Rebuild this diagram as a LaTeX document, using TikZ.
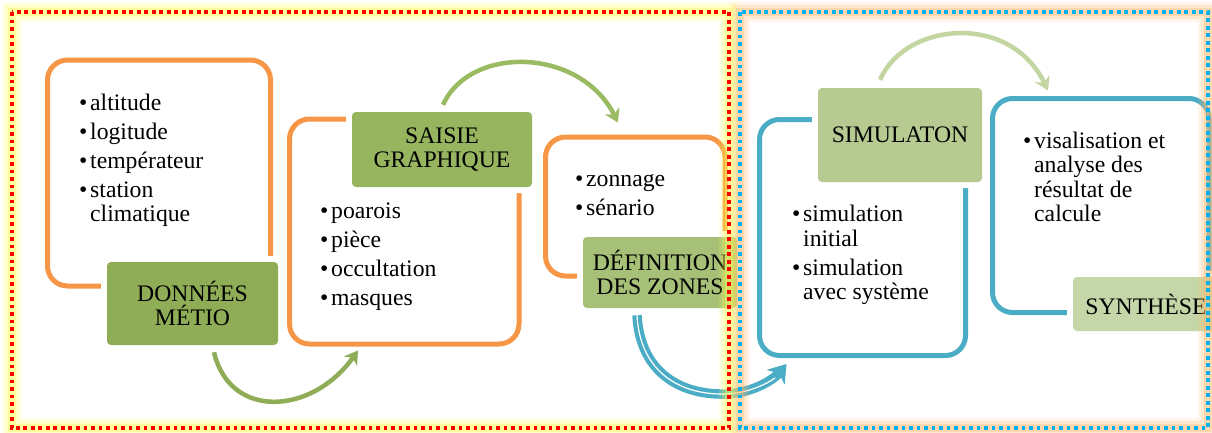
\documentclass[tikz,border=0pt]{standalone}
\usepackage{fontspec}
\setmainfont{Liberation Serif}
\usetikzlibrary{arrows.meta,calc}
\definecolor{orangeC}{HTML}{F79646}
\definecolor{blueC}{HTML}{4BACC6}
\definecolor{gA}{HTML}{8EAD56}
\definecolor{gB}{HTML}{97B55F}
\definecolor{gC}{HTML}{A6C078}
\definecolor{gD}{HTML}{B6CA92}
\definecolor{gE}{HTML}{C5D7A8}
\definecolor{arrA}{HTML}{8EAD56}
\definecolor{arrB}{HTML}{9BBB63}
\definecolor{arrD}{HTML}{C3D6A2}
\definecolor{frameRed}{HTML}{FF0000}
\definecolor{frameBlue}{HTML}{00B0F0}
\definecolor{glowY}{HTML}{FFFF55}
\definecolor{glowO}{HTML}{FBB870}
\newcommand\bul{\makebox[11pt][l]{\textbullet}}
\newcommand\ind{\hspace*{11pt}}
\newcommand\bigtxt{\fontsize{23.7}{24.5}\selectfont}
\begin{document}
\begin{tikzpicture}[x=1pt,y=-1pt,
  obox/.style={draw=orangeC, line width=5pt, rounded corners=20pt, inner sep=0pt},
  bbox/.style={obox, draw=blueC},
  gbox/.style={rounded corners=4pt, inner sep=0pt, align=center, font=\bigtxt,
               preaction={draw=white, line width=12pt}},
  btxt/.style={anchor=base west, inner sep=0pt, font=\bigtxt},
  garrow/.style={line width=4.5pt, -{Stealth[length=13pt,width=16pt,inset=4pt]}},
  redframe/.style={draw=frameRed, line width=3.8pt, dash pattern=on 3.8pt off 3.7pt},
  blueframe/.style={draw=frameBlue, line width=3.8pt, dash pattern=on 3.8pt off 3.7pt}
]
\useasboundingbox (0,0) rectangle (1212,432);
\clip (0,0) rectangle (1212,432);

% outline boxes
\node[obox, minimum width=223pt, minimum height=226pt] (o1) at (159,173) {};
\node[obox, minimum width=229.5pt, minimum height=225pt] (o2) at (404.25,231.5) {};
\node[obox, minimum width=179.5pt, minimum height=139pt] (o3) at (635.25,206.5) {};
\node[bbox, minimum width=206pt, minimum height=236pt] (o4) at (862.5,237.5) {};
\node[bbox, minimum width=216.5pt, minimum height=214pt] (o5) at (1100.75,205.5) {};

% green title boxes
\node[gbox, fill=gA, minimum width=171pt, minimum height=83pt] (g1) at (192.5,303.5) {DONNÉES\\MÉTIO};
\node[gbox, fill=gB, minimum width=180pt, minimum height=75pt] (g2) at (442,149.5) {SAISIE\\GRAPHIQUE};
\node[gbox, fill=gC, minimum width=154pt, minimum height=71pt] (g3) at (660,272.5) {DÉFINITION\\DES ZONES};
\node[gbox, fill=gD, minimum width=164pt, minimum height=94pt] (g4) at (900,135) {SIMULATON};
\node[gbox, fill=gE, minimum width=146pt, minimum height=54pt] (g5) at (1146,304) {SYNTHÈSE};

% bullet texts
\node[btxt] (t1) at (79,110) {\begin{tabular}[t]{@{}l@{}}\bul altitude\\[4.5pt]\bul logitude\\[4.5pt]\bul températeur\\[4.5pt]\bul station\\\ind climatique\end{tabular}};
\node[btxt] (t2) at (320,218) {\begin{tabular}[t]{@{}l@{}}\bul poarois\\[4.5pt]\bul pièce\\[4.5pt]\bul occultation\\[4.5pt]\bul masques\end{tabular}};
\node[btxt] (t3) at (575,186.7) {\begin{tabular}[t]{@{}l@{}}\bul zonnage\\[3.8pt]\bul sénario\end{tabular}};
\node[btxt] (t4) at (792,221.7) {\begin{tabular}[t]{@{}l@{}}\bul simulation\\\ind initial\\[4.5pt]\bul simulation\\\ind avec système\end{tabular}};
\node[btxt] (t5) at (1023,148.3) {\begin{tabular}[t]{@{}l@{}}\bul visalisation et\\\ind analyse des\\\ind résultat de\\\ind calcule\end{tabular}};

% connector end points
\coordinate (a1s) at ([xshift=21.5pt,yshift=-7pt]g1.south);
\coordinate (a1e) at ([xshift=-46.25pt,yshift=-4pt]o2.south);
\coordinate (a2s) at ([xshift=1pt,yshift=7pt]g2.north);
\coordinate (a2e) at ([xshift=-17.25pt,yshift=12pt]o3.north);
\coordinate (a3s) at ([xshift=-23pt,yshift=-7pt]g3.south);
\coordinate (a3e) at ([xshift=29.5pt,yshift=-6pt]o4.south west);
\coordinate (a4s) at ([xshift=-20pt,yshift=8pt]g4.north);
\coordinate (a4e) at ([xshift=-52.75pt,yshift=5.5pt]o5.north);

% arrows
\draw[garrow, draw=arrA] (a1s) .. controls (230,420) and (312,415) .. (a1e);
\draw[garrow, draw=arrB] (a2s) .. controls (470,45) and (580,47) .. (a2e);
\draw[garrow, draw=arrD] (a4s) .. controls (905,22) and (1010,12) .. (a4e);
\draw[blueC, line width=9.5pt, -{Stealth[length=17pt,width=23pt,inset=5pt]}]
  (a3s) .. controls (640,372) and (680,395) .. (725,394) .. controls (755,393) and (775,378) .. (a3e);
\draw[white, line width=1.2pt, shorten >=18pt]
  (a3s) .. controls (640,372) and (680,395) .. (725,394) .. controls (755,393) and (775,378) .. (a3e);

% glows
\foreach \w/\o in {20/0.15,14/0.22,8/0.35}{
  \draw[glowO, line width=\w pt, opacity=\o] (740,12) rectangle (1208,428);
  \draw[glowY, line width=\w pt, opacity=\o] (12,12) rectangle (729,428);
}
% frames
\draw[redframe] (12,12) rectangle (729,428);
\draw[blueframe] (740,12) rectangle (1208,428);
\end{tikzpicture}
\end{document}
